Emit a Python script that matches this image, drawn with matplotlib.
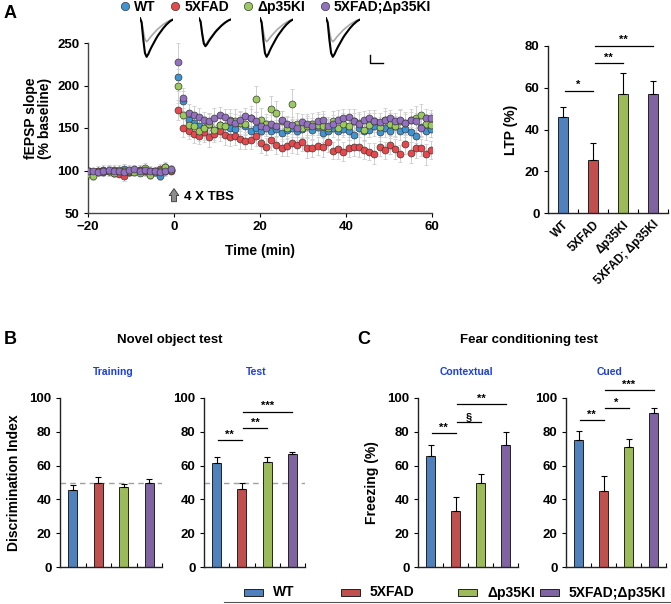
import numpy as np
import matplotlib.pyplot as plt
from matplotlib.patches import Rectangle
from matplotlib.lines import Line2D

plt.rcParams['font.family'] = ['Liberation Sans', 'DejaVu Sans']
plt.rcParams['font.weight'] = 'bold'
plt.rcParams['axes.labelweight'] = 'bold'

W, H = 671, 604

groups = ['WT', '5XFAD', 'Δp35KI', '5XFAD;Δp35KI']
ltp_labels = ['WT', '5XFAD', 'Δp35KI', '5XFAD; Δp35KI']
dot_colors = ['#3d95d3', '#e8474b', '#9ccb5d', '#9370c0']
bar_colors = ['#4f81bd', '#c0504d', '#9bbb59', '#8064a2']

# ---- fEPSP time course (% baseline), sampled every 1.2 min ----
t_base = -20 + 1.2 * np.arange(17)
t_post = 1 + 1.2 * np.arange(50)

wt_base = [100, 98, 99, 101, 100, 97, 99, 102, 98, 100, 101, 99, 96, 100, 94, 99, 101]
fad_base = [99, 97, 100, 98, 99, 101, 96, 93, 98, 100, 101, 99, 100, 98, 102, 104, 100]
ki_base = [96, 94, 98, 99, 100, 97, 101, 99, 100, 98, 97, 103, 95, 98, 100, 104, 101]
dbl_base = [100, 99, 98, 100, 101, 99, 100, 98, 101, 102, 100, 101, 99, 100, 98, 99, 102]

wt_base_sem = [4, 5, 4, 6, 5, 4, 5, 6, 5, 4, 5, 6, 5, 4, 5, 5, 4]
fad_base_sem = [5, 4, 5, 4, 6, 5, 4, 5, 4, 5, 6, 4, 5, 5, 6, 5, 4]
ki_base_sem = [6, 5, 4, 5, 6, 5, 5, 4, 6, 5, 4, 6, 5, 4, 5, 6, 5]
dbl_base_sem = [4, 4, 5, 4, 5, 4, 4, 5, 4, 5, 4, 4, 5, 4, 5, 4, 4]

wt_post = [210, 182, 160, 156, 152, 150, 155, 148, 153, 152,
           150, 149, 156, 152, 147, 150, 146, 152, 147, 149,
           144, 148, 150, 146, 149, 152, 148, 151, 144, 146,
           150, 147, 149, 146, 142, 150, 146, 148, 152, 145,
           150, 147, 152, 146, 149, 145, 141, 151, 147, 149]
fad_post = [171, 150, 147, 143, 141, 145, 139, 143, 146, 142,
            139, 141, 137, 135, 136, 141, 132, 128, 136, 130,
            127, 129, 132, 130, 134, 127, 126, 129, 128, 133,
            123, 125, 122, 126, 128, 128, 124, 122, 120, 128,
            124, 130, 125, 120, 131, 121, 126, 127, 119, 124]
ki_post = [200, 165, 153, 152, 147, 150, 155, 148, 153, 152,
           160, 158, 156, 155, 162, 184, 160, 155, 172, 168,
           158, 150, 178, 155, 150, 152, 155, 154, 152, 150,
           158, 150, 155, 152, 158, 156, 148, 154, 158, 151,
           160, 155, 152, 158, 156, 160, 162, 165, 155, 154]
dbl_post = [228, 185, 168, 165, 163, 160, 158, 162, 165, 163,
            158, 156, 160, 164, 162, 158, 152, 150, 155, 152,
            160, 155, 153, 150, 157, 155, 152, 158, 160, 152,
            155, 160, 162, 163, 158, 155, 160, 162, 158, 157,
            160, 162, 158, 160, 156, 160, 158, 150, 162, 162]

wt_post_sem = [16, 12, 11, 10, 10, 9, 11, 10, 9, 10, 11, 10, 9, 10, 11, 10, 9, 11, 10, 10,
               9, 10, 11, 10, 9, 10, 11, 9, 10, 10, 11, 10, 9, 10, 11, 10, 10, 9, 11, 10,
               10, 9, 11, 10, 10, 11, 9, 10, 11, 10]
fad_post_sem = [12, 11, 10, 11, 10, 12, 11, 10, 11, 12, 10, 11, 12, 10, 11, 12, 11, 10, 12, 11,
                10, 12, 11, 10, 11, 12, 10, 11, 12, 11, 10, 12, 11, 10, 11, 12, 11, 10, 12, 11,
                10, 11, 12, 10, 11, 12, 11, 10, 12, 11]
ki_post_sem = [20, 14, 12, 13, 12, 14, 13, 12, 14, 13, 12, 14, 13, 12, 14, 15, 13, 12, 16, 14,
               12, 13, 18, 13, 12, 14, 13, 12, 14, 13, 12, 14, 13, 12, 14, 13, 12, 14, 13, 12,
               14, 13, 12, 14, 13, 12, 14, 13, 12, 14]
dbl_post_sem = [22, 12, 10, 11, 10, 9, 10, 11, 10, 9, 10, 11, 10, 9, 10, 11, 10, 9, 10, 11,
                10, 9, 10, 11, 10, 9, 10, 11, 10, 9, 10, 11, 10, 9, 10, 11, 10, 9, 10, 11,
                10, 9, 10, 11, 10, 9, 10, 11, 10, 9]

# example fEPSP traces (normalised waveform, baseline grey / post-TBS black)
trace_wave = [0.02, -0.1, -0.55, -0.9, -1.0, -0.93, -0.83, -0.74, -0.66, -0.58, -0.5,
              -0.43, -0.37, -0.31, -0.25, -0.2, -0.15, -0.11, -0.07, -0.04, -0.02]
trace_pre_amp = [0.6, 0.68, 0.6, 0.6]
trace_post_amp = [1.0, 0.72, 1.0, 1.0]

# ---- bar data ----
ltp_mean = [46, 25.5, 57.2, 57.0]
ltp_sem = [5, 8, 9.7, 6]
train_mean = [45.5, 49.9, 47.1, 49.9]
train_sem = [3, 3.6, 2, 2.4]
test_mean = [61.8, 45.9, 62, 66.7]
test_sem = [3.2, 3.6, 3, 1.6]
ctx_mean = [65.7, 33.3, 49.9, 72.3]
ctx_sem = [6.3, 7.9, 5, 7.3]
cued_mean = [75.2, 45.1, 71.3, 91.1]
cued_sem = [5, 8.8, 4.3, 2.9]

ltp_sig = [(0, 1, 58.6, '*'), (1, 2, 71.7, '**'), (1, 3, 80.2, '**')]
test_sig = [(0, 1, 75, '**'), (1, 2, 82, '**'), (1, 3, 92, '***')]
ctx_sig = [(0, 1, 79, '**'), (1, 2, 85.7, '§'), (1, 3, 96.4, '**')]
cued_sig = [(0, 1, 87, '**'), (1, 2, 94, '*'), (1, 3, 104.6, '***')]


def px_rect(l, t, r, b):
    return [l / W, 1 - b / H, (r - l) / W, (b - t) / H]


def style_axes(ax, color='#222222'):
    for s in ['top', 'right']:
        ax.spines[s].set_visible(False)
    for s in ['left', 'bottom']:
        ax.spines[s].set_color(color)
        ax.spines[s].set_linewidth(1.0)


def add_sig(ax, sig, unit):
    for i, j, y, txt in sig:
        ax.plot([i + 0.05, j], [y, y], color='black', lw=0.9, clip_on=False)
        ax.text((i + j) / 2 + 0.02, y + unit, txt, ha='center', va='bottom',
                fontsize=8, clip_on=False)


def bar_panel(rect, means, sems, ymax, width):
    ax = fig.add_axes(px_rect(*rect))
    x = np.arange(4)
    ax.bar(x, means, width=width, color=bar_colors, edgecolor='#222222',
           linewidth=0.7, zorder=2)
    ax.errorbar(x, means, yerr=[np.zeros(4), sems], fmt='none', ecolor='black',
                elinewidth=0.8, capsize=2, capthick=0.8, zorder=3)
    ax.set_xlim(-0.5, 3.5)
    ax.set_ylim(0, ymax)
    ax.set_yticks(np.arange(0, ymax + 1, 20))
    ax.set_xticks([])
    ax.set_xticks([0.5, 1.5, 2.5, 3.5], minor=True)
    ax.tick_params(axis='x', which='minor', direction='in', length=3, width=0.8)
    ax.tick_params(axis='y', direction='out', length=3, width=0.8, labelsize=9.5, pad=3)
    style_axes(ax)
    return ax


fig = plt.figure(figsize=(W / 100, H / 100), dpi=100)

# ---------------- A: time course ----------------
ax = fig.add_axes(px_rect(88, 43, 432, 213))
series = [(wt_base, wt_post, wt_base_sem, wt_post_sem),
          (fad_base, fad_post, fad_base_sem, fad_post_sem),
          (ki_base, ki_post, ki_base_sem, ki_post_sem),
          (dbl_base, dbl_post, dbl_base_sem, dbl_post_sem)]
for base, post, bsem, psem in series:
    tt = np.concatenate([t_base, t_post])
    vv = np.concatenate([base, post])
    ee = np.concatenate([bsem, psem])
    ax.errorbar(tt, vv, yerr=ee, fmt='none', ecolor='#cfcfcf', elinewidth=0.7,
                capsize=1.2, capthick=0.6, zorder=1)
for (base, post, _, _), c in zip(series, dot_colors):
    tt = np.concatenate([t_base, t_post])
    vv = np.concatenate([base, post])
    ax.plot(tt, vv, 'o', ms=5, mfc=c, mec='#3a3a3a', mew=0.5, zorder=3)
ax.set_xlim(-20, 60)
ax.set_ylim(50, 250)
ax.set_xticks([-20, 0, 20, 40, 60])
ax.set_yticks([50, 100, 150, 200, 250])
ax.tick_params(direction='out', length=3, width=0.8, labelsize=9.5, pad=3)
style_axes(ax, '#444444')
ax.set_xlabel('Time (min)', fontsize=10, labelpad=8)
ax.annotate('', xy=(0, 82), xytext=(0, 60),
            arrowprops=dict(arrowstyle='simple,head_width=0.7,head_length=0.5,tail_width=0.35',
                            fc='#8c8c8c', ec='#333333', lw=0.6))
ax.text(2.3, 69, '4 X TBS', fontsize=9.5, va='center', ha='left')
fig.text(38 / W, 1 - 118 / H, 'fEPSP slope\n(% baseline)', rotation=90,
         ha='center', va='center', fontsize=10, linespacing=1.05)

# example traces
trace_boxes = [(140, 17, 173, 58), (199, 17, 231, 58), (260, 17, 293, 58), (326, 17, 360, 58)]
tx = np.arange(len(trace_wave))
for box, a0, a1 in zip(trace_boxes, trace_pre_amp, trace_post_amp):
    ia = fig.add_axes(px_rect(*box))
    ia.plot(tx, a0 * np.array(trace_wave), color='#a8a8a8', lw=1.2)
    ia.plot(tx, a1 * np.array(trace_wave), color='black', lw=1.5)
    ia.set_xlim(0, len(trace_wave) - 1)
    ia.set_ylim(-1.03, 0.05)
    ia.axis('off')
sb = fig.add_axes(px_rect(370, 55, 383, 63))
sb.plot([0, 0, 1], [1, 0, 0], color='black', lw=1.0, clip_on=False)
sb.set_xlim(0, 1)
sb.set_ylim(0, 1)
sb.axis('off')

# legend (top)
leg_h = [Line2D([], [], ls='', marker='o', ms=6, mfc=c, mec='#3a3a3a', mew=0.5)
         for c in dot_colors]
fig.legend(leg_h, groups, ncol=4, loc='center', bbox_to_anchor=(276 / W, 1 - 7 / H),
           frameon=False, fontsize=10, handlelength=0.6, handletextpad=0.35,
           columnspacing=1.1, borderaxespad=0, borderpad=0)

# ---------------- A: LTP bars ----------------
ax = bar_panel((548, 46, 668, 213), ltp_mean, ltp_sem, 80, 0.34)
ax.set_xticks(np.arange(4))
ax.set_xticklabels(ltp_labels, rotation=45, ha='right', rotation_mode='anchor', fontsize=8.5)
ax.tick_params(axis='x', which='major', length=0, pad=4)
ax.set_ylabel('LTP (%)', fontsize=10, labelpad=5)
add_sig(ax, ltp_sig, 0.3)

# ---------------- B: novel object ----------------
ax = bar_panel((60, 398, 162, 567), train_mean, train_sem, 100, 0.36)
ax.axhline(50, color='#a0a0a0', lw=1.0, ls=(0, (4, 3)), zorder=1)
ax.set_ylabel('Discrimination Index', fontsize=10, labelpad=6)

ax = bar_panel((204, 398, 305, 567), test_mean, test_sem, 100, 0.36)
ax.axhline(50, color='#a0a0a0', lw=1.0, ls=(0, (4, 3)), zorder=1)
add_sig(ax, test_sig, 0.3)

# ---------------- C: fear conditioning ----------------
ax = bar_panel((418, 398, 518, 567), ctx_mean, ctx_sem, 100, 0.36)
ax.set_ylabel('Freezing (%)', fontsize=10, labelpad=6)
add_sig(ax, ctx_sig, 0.3)

ax = bar_panel((566, 398, 666, 567), cued_mean, cued_sem, 100, 0.36)
add_sig(ax, cued_sig, 0.3)


# titles and panel letters
def ftext(x, y, s, **kw):
    fig.text(x / W, 1 - y / H, s, ha='center', va='center', **kw)


ftext(10, 13, 'A', fontsize=13)
ftext(10, 340, 'B', fontsize=13)
ftext(364, 340, 'C', fontsize=13)
ftext(170, 340, 'Novel object test', fontsize=9.5)
ftext(529, 340, 'Fear conditioning test', fontsize=9.5)
blue = '#1c3fe0'
ftext(113, 372, 'Training', fontsize=7.5, color=blue)
ftext(256, 372, 'Test', fontsize=7.5, color=blue)
ftext(466, 372, 'Contextual', fontsize=7.5, color=blue)
ftext(610, 372, 'Cued', fontsize=7.5, color=blue)

# bottom legend
patch_x = [244, 341, 458, 540]
for px, c, g in zip(patch_x, bar_colors, groups):
    fig.add_artist(Rectangle((px / W, 1 - 596 / H), 19 / W, 7 / H, transform=fig.transFigure,
                             fc=c, ec='#222222', lw=0.7))
    fig.text((px + 29) / W, 1 - 592.5 / H, g, ha='left', va='center', fontsize=10)
fig.add_artist(Line2D([224 / W, 1], [1 - 602 / H, 1 - 602 / H], color='#555555', lw=0.8))

fig.savefig('out.png', dpi=100)
